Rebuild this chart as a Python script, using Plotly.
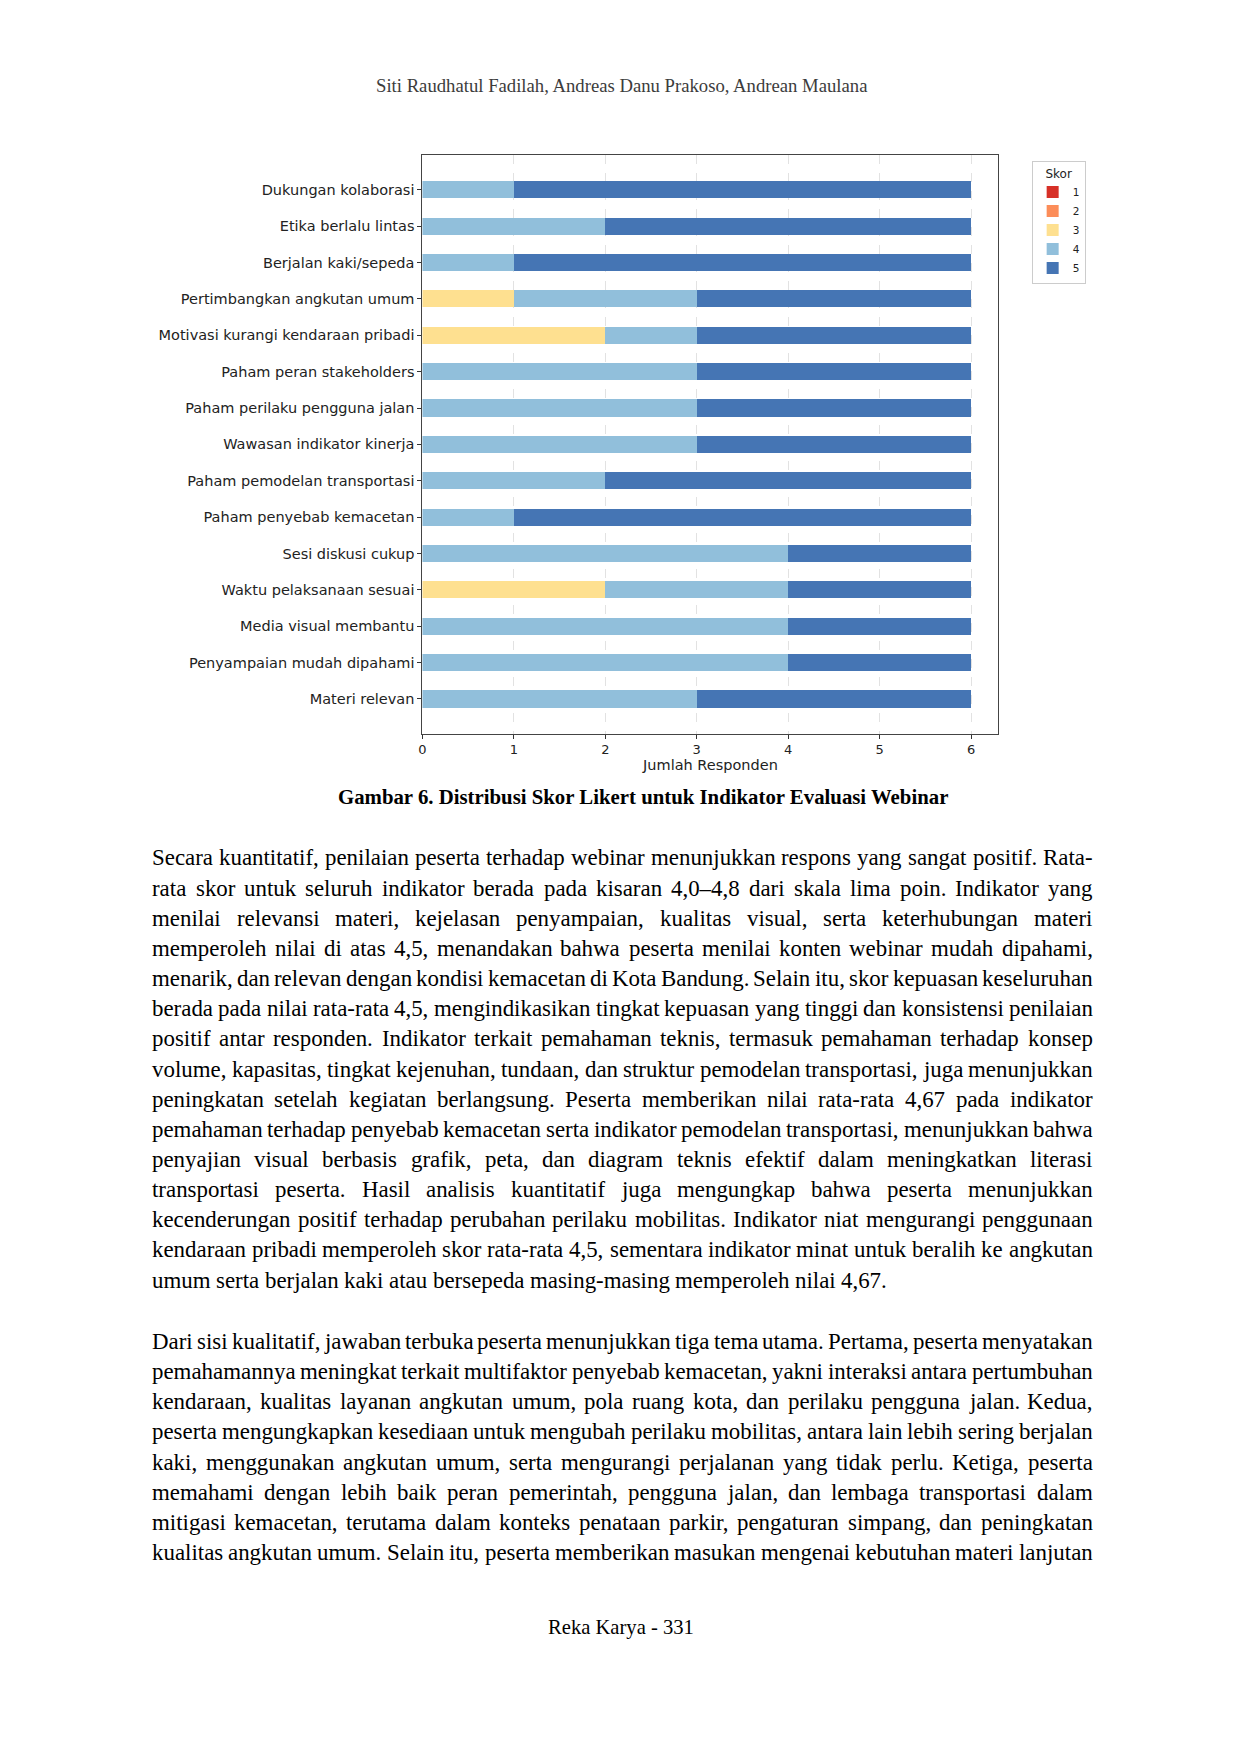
import plotly.graph_objects as go

# ---------------- chart data ----------------
categories = [
    "Dukungan kolaborasi",
    "Etika berlalu lintas",
    "Berjalan kaki/sepeda",
    "Pertimbangkan angkutan umum",
    "Motivasi kurangi kendaraan pribadi",
    "Paham peran stakeholders",
    "Paham perilaku pengguna jalan",
    "Wawasan indikator kinerja",
    "Paham pemodelan transportasi",
    "Paham penyebab kemacetan",
    "Sesi diskusi cukup",
    "Waktu pelaksanaan sesuai",
    "Media visual membantu",
    "Penyampaian mudah dipahami",
    "Materi relevan",
]
skor_1 = [0, 0, 0, 0, 0, 0, 0, 0, 0, 0, 0, 0, 0, 0, 0]
skor_2 = [0, 0, 0, 0, 0, 0, 0, 0, 0, 0, 0, 0, 0, 0, 0]
skor_3 = [0, 0, 0, 1, 2, 0, 0, 0, 0, 0, 0, 2, 0, 0, 0]
skor_4 = [1, 2, 1, 2, 1, 3, 3, 3, 2, 1, 4, 2, 4, 4, 3]
skor_5 = [5, 4, 5, 3, 3, 3, 3, 3, 4, 5, 2, 2, 2, 2, 3]
score_labels = ["1", "2", "3", "4", "5"]
score_colors = ["#d73027", "#fc8d59", "#fee090", "#91bfdb", "#4575b4"]
x_ticks = [0, 1, 2, 3, 4, 5, 6]

# ---------------- page text ----------------
header_text = "Siti Raudhatul Fadilah, Andreas Danu Prakoso, Andrean Maulana"
caption_text = "Gambar 6. Distribusi Skor Likert untuk Indikator Evaluasi Webinar"
footer_text = "Reka Karya - 331"
paragraph_1 = [
    "Secara kuantitatif, penilaian peserta terhadap webinar menunjukkan respons yang sangat positif. Rata-",
    "rata skor untuk seluruh indikator berada pada kisaran 4,0–4,8 dari skala lima poin. Indikator yang",
    "menilai relevansi materi, kejelasan penyampaian, kualitas visual, serta keterhubungan materi",
    "memperoleh nilai di atas 4,5, menandakan bahwa peserta menilai konten webinar mudah dipahami,",
    "menarik, dan relevan dengan kondisi kemacetan di Kota Bandung. Selain itu, skor kepuasan keseluruhan",
    "berada pada nilai rata-rata 4,5, mengindikasikan tingkat kepuasan yang tinggi dan konsistensi penilaian",
    "positif antar responden. Indikator terkait pemahaman teknis, termasuk pemahaman terhadap konsep",
    "volume, kapasitas, tingkat kejenuhan, tundaan, dan struktur pemodelan transportasi, juga menunjukkan",
    "peningkatan setelah kegiatan berlangsung. Peserta memberikan nilai rata-rata 4,67 pada indikator",
    "pemahaman terhadap penyebab kemacetan serta indikator pemodelan transportasi, menunjukkan bahwa",
    "penyajian visual berbasis grafik, peta, dan diagram teknis efektif dalam meningkatkan literasi",
    "transportasi peserta. Hasil analisis kuantitatif juga mengungkap bahwa peserta menunjukkan",
    "kecenderungan positif terhadap perubahan perilaku mobilitas. Indikator niat mengurangi penggunaan",
    "kendaraan pribadi memperoleh skor rata-rata 4,5, sementara indikator minat untuk beralih ke angkutan",
    "umum serta berjalan kaki atau bersepeda masing-masing memperoleh nilai 4,67.",
]
paragraph_2 = [
    "Dari sisi kualitatif, jawaban terbuka peserta menunjukkan tiga tema utama. Pertama, peserta menyatakan",
    "pemahamannya meningkat terkait multifaktor penyebab kemacetan, yakni interaksi antara pertumbuhan",
    "kendaraan, kualitas layanan angkutan umum, pola ruang kota, dan perilaku pengguna jalan. Kedua,",
    "peserta mengungkapkan kesediaan untuk mengubah perilaku mobilitas, antara lain lebih sering berjalan",
    "kaki, menggunakan angkutan umum, serta mengurangi perjalanan yang tidak perlu. Ketiga, peserta",
    "memahami dengan lebih baik peran pemerintah, pengguna jalan, dan lembaga transportasi dalam",
    "mitigasi kemacetan, terutama dalam konteks penataan parkir, pengaturan simpang, dan peningkatan",
    "kualitas angkutan umum. Selain itu, peserta memberikan masukan mengenai kebutuhan materi lanjutan",
]

# ---------------- figure ----------------
# the page body has an 8 px default margin, so the figure is 16 px smaller
# and page coordinates are shifted by 8 px
OFF = 8
W, H = 1240 - 2 * OFF, 1754 - 2 * OFF


def px(x):
    return (x - OFF) / W


def py(y):
    return 1 - (y - OFF) / H


fig = go.Figure()
series = [skor_1, skor_2, skor_3, skor_4, skor_5]
for lab, col, vals in zip(score_labels, score_colors, series):
    fig.add_trace(go.Bar(
        y=categories, x=vals, orientation="h", name=lab,
        marker=dict(color=col, line=dict(width=0)),
    ))

axis_font = dict(family="DejaVu Sans", size=14.5, color="#222222")
fig.update_layout(
    width=W, height=H,
    margin=dict(l=0, r=0, t=0, b=0),
    paper_bgcolor="white", plot_bgcolor="white",
    barmode="stack", bargap=0.53,
    showlegend=True,
    legend=dict(
        x=px(1031), y=py(161), xanchor="left", yanchor="top",
        bordercolor="#cccccc", borderwidth=1, bgcolor="white",
        font=dict(family="DejaVu Sans", size=10.5, color="#222222"),
        title=dict(text="Skor", side="top center",
                   font=dict(family="DejaVu Sans", size=12, color="#222222")),
        itemwidth=30, traceorder="normal",
    ),
    xaxis=dict(
        domain=[px(419.8), px(997.7)], range=[0, 6.3],
        tickvals=x_ticks, ticktext=[str(v) for v in x_ticks],
        ticks="outside", ticklen=4, tickcolor="#333333",
        tickfont=dict(family="DejaVu Sans", size=13, color="#222222"),
        showgrid=True, gridcolor="#e2e2e2", griddash="dash", gridwidth=0.8,
        showline=True, mirror=True, linecolor="#444444", linewidth=1.2,
        zeroline=False,
        title=dict(text="Jumlah Responden", standoff=2, font=axis_font),
    ),
    yaxis=dict(
        domain=[py(733.5), py(155.3)],
        type="category", categoryorder="array", categoryarray=categories,
        range=[14.95, -0.95],
        ticks="outside", ticklen=4, tickcolor="#333333",
        tickfont=axis_font,
        showgrid=False,
        showline=True, mirror=True, linecolor="#444444", linewidth=1.2,
        zeroline=False,
    ),
)

serif = "Liberation Serif, Times New Roman, serif"
annotations = []
annotations.append(dict(x=px(620), y=py(85), xref="paper", yref="paper",
                        text=header_text, showarrow=False,
                        font=dict(family=serif, size=18.7, color="#3c3c3c"),
                        xanchor="center", yanchor="middle"))
annotations.append(dict(x=px(641), y=py(796), xref="paper", yref="paper",
                        text="<b>" + caption_text + "</b>", showarrow=False,
                        font=dict(family=serif, size=20.8, color="#000000"),
                        xanchor="center", yanchor="middle"))
annotations.append(dict(x=px(619), y=py(1627), xref="paper", yref="paper",
                        text=footer_text, showarrow=False,
                        font=dict(family=serif, size=20.6, color="#000000"),
                        xanchor="center", yanchor="middle"))

# Times metrics (per 1000 em) for justification
tw = {' ': 250, 'a': 444, 'b': 500, 'c': 444, 'd': 500, 'e': 444, 'f': 333, 'g': 500,
      'h': 500, 'i': 278, 'j': 278, 'k': 500, 'l': 278, 'm': 778, 'n': 500, 'o': 500,
      'p': 500, 'q': 500, 'r': 333, 's': 389, 't': 278, 'u': 500, 'v': 500, 'w': 722,
      'x': 500, 'y': 500, 'z': 444,
      'A': 722, 'B': 667, 'C': 667, 'D': 722, 'E': 611, 'F': 556, 'G': 722, 'H': 722,
      'I': 333, 'J': 389, 'K': 722, 'L': 611, 'M': 889, 'N': 722, 'O': 722, 'P': 556,
      'Q': 722, 'R': 667, 'S': 556, 'T': 611, 'U': 722, 'V': 722, 'W': 944, 'X': 722,
      'Y': 722, 'Z': 611, ',': 250, '.': 250, '-': 333, '–': 500, ':': 278, ';': 278,
      '/': 278, '(': 333, ')': 333}
for d in "0123456789":
    tw[d] = 500


def word_em(w):
    return sum(tw.get(c, 500) for c in w) / 1000.0


LEFT, RIGHT = 147.5, 1091.0
LINE_W = RIGHT - LEFT
BASE_FS = 22.9
LINE_H = 30.15


def add_line(text, y, justify):
    words = text.split(" ")
    ems = [word_em(w) for w in words]
    tot = sum(ems)
    gaps = len(words) - 1
    fs = BASE_FS
    if justify and gaps > 0:
        min_sp = 0.1
        if (tot + gaps * min_sp) * fs > LINE_W:
            fs = LINE_W / (tot + gaps * min_sp)
        sp = (LINE_W - tot * fs) / gaps
    else:
        sp = 0.25 * fs
    x = LEFT
    for w, e in zip(words, ems):
        annotations.append(dict(x=px(x), y=py(y), xref="paper", yref="paper",
                                text=w, showarrow=False, borderpad=0,
                                font=dict(family=serif, size=fs, color="#000000"),
                                xanchor="left", yanchor="middle"))
        x += e * fs + sp


for i, line in enumerate(paragraph_1):
    add_line(line, 858 + i * LINE_H, i < len(paragraph_1) - 1)
for i, line in enumerate(paragraph_2):
    add_line(line, 1341.5 + i * LINE_H, True)

fig.update_layout(annotations=annotations)
fig.write_html("out.html")
